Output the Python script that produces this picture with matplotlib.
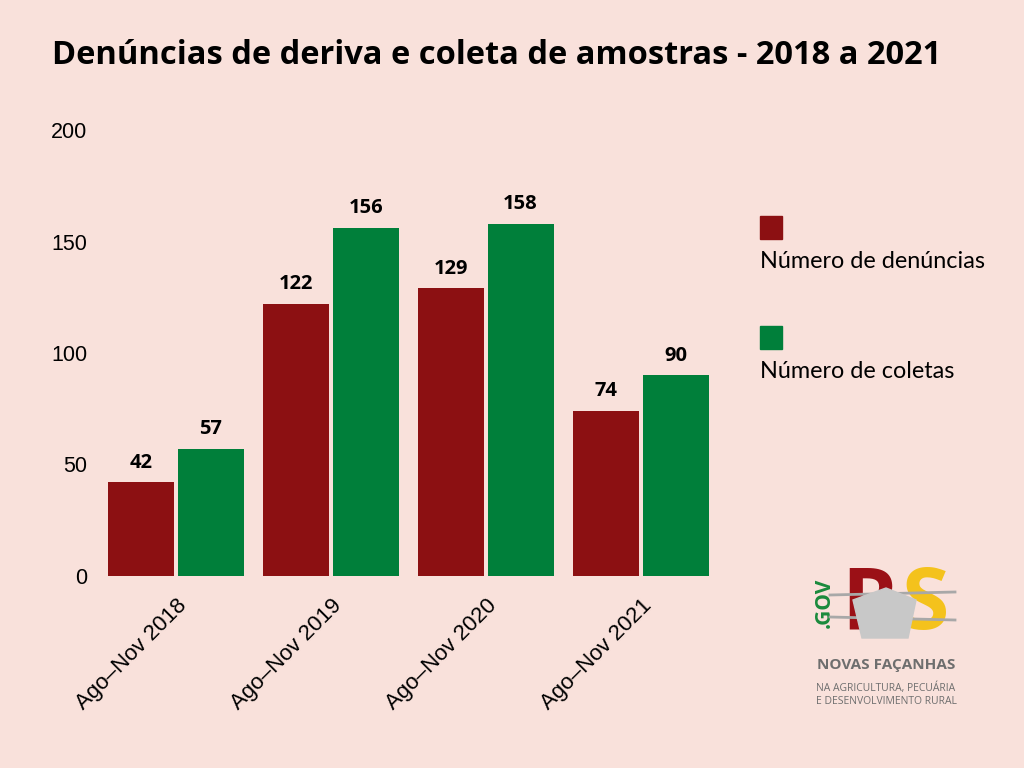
import matplotlib
matplotlib.use('Agg')
import matplotlib.pyplot as plt
import numpy as np
from matplotlib.patches import Polygon, Rectangle

# data
periodos = ['Ago–Nov 2018', 'Ago–Nov 2019', 'Ago–Nov 2020', 'Ago–Nov 2021']
denuncias = [42, 122, 129, 74]
coletas = [57, 156, 158, 90]
series_nomes = ['Número de denúncias', 'Número de coletas']

bg = '#f9e1db'
red = '#8c1012'
green = '#007f3a'

fig = plt.figure(figsize=(10.24, 7.68), dpi=100, facecolor=bg)
ax = fig.add_axes([98.5 / 1024, 1 - 576 / 768, 620 / 1024, 446 / 768])
ax.set_facecolor('none')

x = np.arange(len(periodos))
w = 0.426
off = w / 2 + 0.01
b1 = ax.bar(x - off, denuncias, w, color=red)
b2 = ax.bar(x + off, coletas, w, color=green)

for bars in (b1, b2):
    for b in bars:
        ax.annotate(str(int(b.get_height())), (b.get_x() + b.get_width() / 2, b.get_height()),
                    xytext=(0, 7), textcoords='offset points', ha='center', va='bottom',
                    fontsize=14.5, fontweight='bold', family='Open Sans')

ax.set_xlim(-0.5, 3.5)
ax.set_ylim(0, 200)
ax.set_yticks([0, 50, 100, 150, 200])
ax.set_xticks(x)
ax.set_xticklabels(periodos, rotation=45, ha='right', rotation_mode='anchor',
                   family='Liberation Sans', fontsize=16)
for lab in ax.get_yticklabels():
    lab.set_family('Liberation Sans')
    lab.set_fontsize(15.5)
ax.tick_params(length=0)
ax.tick_params(axis='y', pad=8)
ax.tick_params(axis='x', pad=14)
for s in ax.spines.values():
    s.set_visible(False)

fig.text(52 / 1024, 1 - 55 / 768, 'Denúncias de deriva e coleta de amostras - 2018 a 2021',
         fontsize=23.5, fontweight='bold', family='Open Sans', va='center', ha='left')

# legend
for i, (nome, c) in enumerate(zip(series_nomes, [red, green])):
    y0 = 216 + i * 110
    fig.patches.append(Rectangle((760 / 1024, 1 - (y0 + 23) / 768), 22 / 1024, 23 / 768,
                                 transform=fig.transFigure, color=c))
    fig.text(760 / 1024, 1 - (y0 + 45) / 768, nome, fontsize=16.8, family='Lato',
             va='center', ha='left')

# logo
fig.text(824 / 1024, 1 - 603 / 768, '.GOV', rotation=90, color='#1a8a3c', fontsize=15,
         fontweight='bold', family='Open Sans', ha='center', va='center')
fig.text(870 / 1024, 1 - 607 / 768, 'R', color='#9b1016', fontsize=62, fontweight='bold',
         family='Open Sans', ha='center', va='center')
fig.text(925 / 1024, 1 - 607 / 768, 'S', color='#f4c21c', fontsize=62, fontweight='bold',
         family='Open Sans', ha='center', va='center')
for (xa, ya, xb, yb) in [(830, 595, 955, 592), (830, 617, 955, 620)]:
    fig.lines.append(plt.Line2D([xa / 1024, xb / 1024], [1 - ya / 768, 1 - yb / 768],
                                transform=fig.transFigure, color='#a8a8a8', lw=2, zorder=4))
pent = [(853, 600), (886, 588), (916, 600), (908, 638), (862, 638)]
fig.patches.append(Polygon([(px / 1024, 1 - py / 768) for px, py in pent],
                           transform=fig.transFigure, color='#c8c8c8', zorder=5))
fig.text(886 / 1024, 1 - 665 / 768, 'NOVAS FAÇANHAS', color='#6e6e6e', fontsize=11,
         fontweight='bold', family='Open Sans', ha='center', va='center')
fig.text(886 / 1024, 1 - 695 / 768, 'NA AGRICULTURA, PECUÁRIA\nE DESENVOLVIMENTO RURAL',
         color='#6e6e6e', fontsize=7.5, family='Open Sans', ha='center', va='center',
         linespacing=1.3)

fig.savefig('out.png', dpi=100, facecolor=bg)
